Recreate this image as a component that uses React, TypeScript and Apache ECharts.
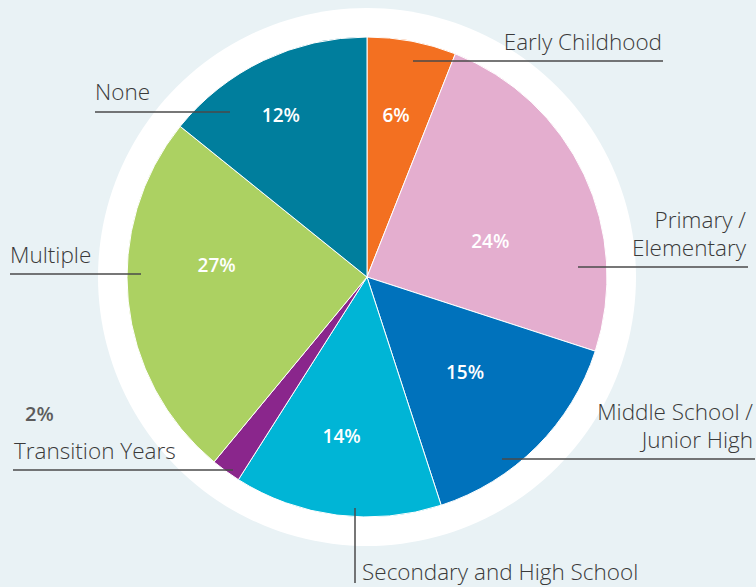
import React, { useEffect, useRef } from "react";
import * as echarts from "echarts";

const categories = [
  "Early Childhood",
  "Primary / Elementary",
  "Middle School / Junior High",
  "Secondary and High School",
  "Transition Years",
  "Multiple",
  "None",
];
// slice sizes as drawn in the picture
const values = [6, 24, 15, 14, 2, 24.8, 14.2];
// percentages as printed on the picture
const pctLabels = [6, 24, 15, 14, 2, 27, 12];
const colors = ["#f37021", "#e4aecf", "#0072bc", "#00b5d6", "#8a268c", "#acd162", "#007e9d"];
// label offsets (style) from default inside position
const labelOffsets = [
  [6, -41],
  [12, 16],
  [11, 8],
  [-10, 37],
  [0, 0],
  [-28, -24],
  [-33, -51],
];

const CX = 367;
const CY = 277;
const R = 240;
const LINE = "#4a4a4a";
const TXT = "#3a3a3a";
const FONT = "'Open Sans', sans-serif";

export default function App() {
  const ref = useRef<HTMLDivElement>(null);
  useEffect(() => {
    if (!ref.current) return;
    const chart = echarts.init(ref.current, undefined, { renderer: "svg" });
    const t = (text: string, x: number, y: number, align: string, extra: any = {}) => ({
      type: "text",
      z: 10,
      x,
      y,
      style: {
        text,
        fill: TXT,
        font: `300 22.5px ${FONT}`,
        align,
        verticalAlign: "middle",
        lineHeight: 28,
        ...extra,
      },
    });
    const l = (x1: number, y1: number, x2: number, y2: number) => ({
      type: "line",
      z: 10,
      shape: { x1, y1, x2, y2 },
      style: { stroke: LINE, lineWidth: 1.5 },
    });
    chart.setOption({
      animation: false,
      backgroundColor: "#e9f2f5",
      graphic: {
        elements: [
          {
            type: "circle",
            z: 0,
            shape: { cx: CX, cy: CY, r: 269 },
            style: { fill: "#ffffff" },
          },
          t(categories[0], 662, 41, "right"),
          l(413, 61, 663, 61),
          t("Primary /\nElementary", 746, 233, "right"),
          l(578, 267, 748, 267),
          t("Middle School /\nJunior High", 753, 425, "right"),
          l(502, 459, 755, 459),
          t(categories[3], 362, 571, "left"),
          l(355, 508, 355, 583),
          t(pctLabels[4] + "%", 25, 413, "left", {
            font: `600 20px ${FONT}`,
            fill: "#5c5c5c",
          }),
          t(categories[4], 14, 450, "left"),
          l(13, 470, 233, 470),
          t(categories[5], 10, 254, "left"),
          l(10, 274, 141, 274),
          t(categories[6], 95, 91, "left"),
          l(95, 112, 230, 112),
        ],
      },
      series: [
        {
          type: "pie",
          center: [CX, CY],
          radius: [0, R],
          startAngle: 90,
          clockwise: true,
          silent: true,
          z: 2,
          itemStyle: { borderColor: "#ffffff", borderWidth: 1 },
          label: {
            show: true,
            position: "inside",
            formatter: (p: any) => pctLabels[p.dataIndex] + "%",
            color: "#ffffff",
            fontFamily: FONT,
            fontWeight: 600,
            fontSize: 19,
          },
          labelLayout: (p: any) => {
            const o = labelOffsets[p.dataIndex] || [0, 0];
            return { dx: o[0], dy: o[1] };
          },
          data: categories.map((name, i) => ({
            name,
            value: values[i],
            itemStyle: { color: colors[i] },
            label: { show: i !== 4 },
          })),
        },
      ],
    });
    return () => chart.dispose();
  }, []);
  return (
    <div
      ref={ref}
      style={{ position: "absolute", left: 0, top: 0, width: 756, height: 587 }}
    />
  );
}
